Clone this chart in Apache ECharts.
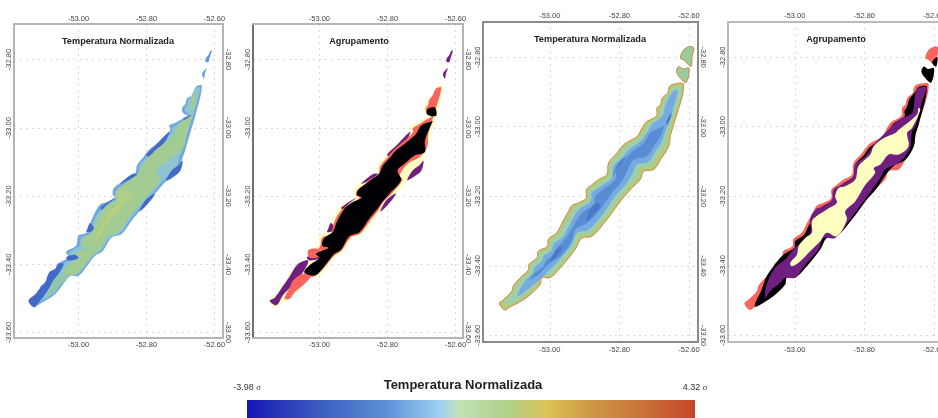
<!DOCTYPE html>
<html>
<head>
<meta charset="utf-8">
<style>html,body{margin:0;padding:0;background:#fff;overflow:hidden}#main{width:938px;height:418px}</style>
<script src="https://cdn.jsdelivr.net/npm/echarts@6/dist/echarts.min.js"></script>
</head>
<body>
<div id="main"></div>
<script>
// tick labels
var lonTicks = [-53.0, -52.8, -52.6];
var latTicks = [-33.6, -33.4, -33.2, -33.0, -32.8];

// temperature scale (sigma) and colours
var scaleMin = -3.98;
var scaleMax = 4.32;
var scaleValues = [-3.98, -2.65, -1.41, -0.41, -0.04, 0.83, 1.58, 2.33, 3.57, 4.32];
var scaleColors = ['#1716b5', '#3a5cc0', '#5a90d5', '#9fd0f5', '#c0e3b5', '#aed18a', '#dcc355', '#d09a45', '#c76a35', '#c8452a'];

// cluster colours
var black = '#000004', purple = '#6f1f80', salmon = '#f8655f', cream = '#fcfdbf';

// --- left pair, outlines as [lon, lat] ---
var outlineA = [[-52.637,-32.877],[-52.652,-32.878],[-52.662,-32.895],[-52.665,-32.905],[-52.681,-32.914],[-52.685,-32.929],[-52.696,-32.944],[-52.691,-32.958],[-52.677,-32.966],[-52.693,-32.973],[-52.716,-32.986],[-52.733,-32.993],[-52.730,-33.007],[-52.750,-33.027],[-52.770,-33.046],[-52.794,-33.066],[-52.809,-33.086],[-52.828,-33.110],[-52.833,-33.134],[-52.853,-33.144],[-52.873,-33.159],[-52.897,-33.178],[-52.899,-33.198],[-52.892,-33.203],[-52.917,-33.218],[-52.936,-33.224],[-52.951,-33.247],[-52.966,-33.281],[-52.974,-33.306],[-53.000,-33.316],[-53.007,-33.345],[-53.037,-33.364],[-53.029,-33.379],[-53.062,-33.399],[-53.069,-33.414],[-53.086,-33.424],[-53.098,-33.454],[-53.111,-33.463],[-53.115,-33.478],[-53.127,-33.488],[-53.147,-33.507],[-53.132,-33.527],[-53.123,-33.522],[-53.098,-33.507],[-53.069,-33.488],[-53.049,-33.463],[-53.025,-33.434],[-53.000,-33.434],[-52.971,-33.399],[-52.951,-33.374],[-52.931,-33.364],[-52.902,-33.321],[-52.873,-33.311],[-52.843,-33.271],[-52.819,-33.242],[-52.799,-33.208],[-52.780,-33.198],[-52.745,-33.159],[-52.735,-33.154],[-52.726,-33.149],[-52.701,-33.125],[-52.696,-33.095],[-52.686,-33.066],[-52.672,-33.017],[-52.652,-32.949]];
var islandA1 = [[-52.611,-32.773],[-52.608,-32.775],[-52.615,-32.797],[-52.618,-32.807],[-52.626,-32.807],[-52.626,-32.797],[-52.618,-32.787]];
var islandA2 = [[-52.623,-32.825],[-52.628,-32.841],[-52.631,-32.856],[-52.637,-32.843],[-52.631,-32.833]];
var bandA = [[-52.642,-32.882],[-52.657,-32.885],[-52.667,-32.905],[-52.677,-32.919],[-52.681,-32.934],[-52.688,-32.944],[-52.683,-32.956],[-52.670,-32.966],[-52.689,-32.978],[-52.711,-32.993],[-52.726,-33.002],[-52.724,-33.012],[-52.740,-33.029],[-52.762,-33.048],[-52.784,-33.068],[-52.801,-33.088],[-52.821,-33.112],[-52.827,-33.139],[-52.848,-33.149],[-52.868,-33.166],[-52.889,-33.183],[-52.892,-33.198],[-52.882,-33.205],[-52.912,-33.224],[-52.931,-33.237],[-52.944,-33.252],[-52.958,-33.281],[-52.966,-33.311],[-52.992,-33.322],[-52.997,-33.345],[-53.029,-33.367],[-53.017,-33.381],[-53.049,-33.403],[-53.059,-33.428],[-53.074,-33.447],[-53.088,-33.472],[-53.103,-33.496],[-53.115,-33.511],[-53.098,-33.501],[-53.069,-33.482],[-53.054,-33.457],[-53.029,-33.430],[-53.003,-33.428],[-52.977,-33.399],[-52.956,-33.374],[-52.936,-33.361],[-52.909,-33.322],[-52.879,-33.309],[-52.850,-33.271],[-52.827,-33.242],[-52.807,-33.218],[-52.784,-33.193],[-52.755,-33.159],[-52.745,-33.149],[-52.730,-33.134],[-52.711,-33.113],[-52.703,-33.086],[-52.693,-33.061],[-52.680,-33.017],[-52.659,-32.949]];
var coreA = [[-52.652,-32.890],[-52.664,-32.914],[-52.672,-32.939],[-52.664,-32.958],[-52.681,-32.973],[-52.706,-32.990],[-52.716,-33.012],[-52.735,-33.035],[-52.755,-33.051],[-52.775,-33.066],[-52.791,-33.086],[-52.814,-33.112],[-52.824,-33.134],[-52.843,-33.149],[-52.863,-33.164],[-52.887,-33.183],[-52.889,-33.198],[-52.876,-33.205],[-52.902,-33.218],[-52.922,-33.232],[-52.936,-33.252],[-52.951,-33.281],[-52.961,-33.306],[-52.985,-33.322],[-52.992,-33.345],[-52.974,-33.352],[-53.010,-33.369],[-53.000,-33.381],[-53.029,-33.403],[-53.044,-33.423],[-53.020,-33.433],[-53.003,-33.426],[-52.980,-33.399],[-52.958,-33.371],[-52.936,-33.357],[-52.912,-33.318],[-52.882,-33.306],[-52.853,-33.266],[-52.833,-33.242],[-52.814,-33.216],[-52.794,-33.193],[-52.760,-33.154],[-52.770,-33.125],[-52.750,-33.105],[-52.721,-33.084],[-52.693,-33.061],[-52.681,-33.017],[-52.662,-32.954]];
var coreSouthA = [[-53.054,-33.428],[-53.029,-33.433],[-53.059,-33.467],[-53.083,-33.491],[-53.095,-33.501],[-53.083,-33.472],[-53.069,-33.447]];
var centreA1 = [[-52.873,-33.220],[-52.907,-33.244],[-52.931,-33.284],[-52.951,-33.318],[-52.961,-33.338],[-52.936,-33.314],[-52.907,-33.269],[-52.873,-33.234]];
var centreA2 = [[-52.873,-33.183],[-52.843,-33.188],[-52.853,-33.218],[-52.878,-33.222],[-52.892,-33.198]];
var deepSouth = [[-53.147,-33.507],[-53.127,-33.488],[-53.113,-33.469],[-53.098,-33.452],[-53.086,-33.423],[-53.069,-33.414],[-53.059,-33.399],[-53.044,-33.399],[-53.056,-33.423],[-53.074,-33.447],[-53.088,-33.472],[-53.103,-33.494],[-53.121,-33.516],[-53.132,-33.525]];
var fringe1 = [[-53.036,-33.379],[-52.997,-33.371],[-52.995,-33.381],[-53.029,-33.389]];
var fringe2 = [[-52.977,-33.306],[-52.954,-33.299],[-52.966,-33.279],[-52.974,-33.296]];
var fringe3 = [[-52.936,-33.234],[-52.892,-33.205],[-52.915,-33.224],[-52.931,-33.240]];
var fringe4 = [[-52.843,-33.136],[-52.828,-33.136],[-52.853,-33.154],[-52.877,-33.164]];
var fringe5 = [[-52.801,-33.078],[-52.770,-33.048],[-52.750,-33.027],[-52.733,-33.012],[-52.743,-33.037],[-52.768,-33.064],[-52.794,-33.084]];
var fringe6 = [[-52.694,-33.097],[-52.701,-33.127],[-52.726,-33.146],[-52.742,-33.154],[-52.726,-33.125],[-52.706,-33.110]];
var fringe7 = [[-52.799,-33.208],[-52.775,-33.193],[-52.795,-33.221],[-52.820,-33.245],[-52.812,-33.225]];
var fringe8 = [[-52.693,-32.973],[-52.667,-32.963],[-52.681,-32.978]];

var purpleSouth = [[-53.146,-33.507],[-53.131,-33.498],[-53.107,-33.464],[-53.087,-33.435],[-53.063,-33.399],[-53.033,-33.389],[-53.048,-33.423],[-53.073,-33.447],[-53.087,-33.469],[-53.107,-33.491],[-53.126,-33.520]];
var salmonMain = [[-52.642,-32.882],[-52.657,-32.885],[-52.667,-32.905],[-52.677,-32.919],[-52.681,-32.934],[-52.688,-32.944],[-52.683,-32.956],[-52.670,-32.966],[-52.689,-32.978],[-52.711,-32.993],[-52.726,-33.002],[-52.724,-33.012],[-52.740,-33.029],[-52.762,-33.048],[-52.784,-33.068],[-52.801,-33.088],[-52.821,-33.112],[-52.827,-33.139],[-52.848,-33.149],[-52.868,-33.166],[-52.889,-33.183],[-52.892,-33.198],[-52.882,-33.205],[-52.912,-33.224],[-52.931,-33.237],[-52.944,-33.252],[-52.958,-33.281],[-52.966,-33.311],[-52.992,-33.322],[-52.997,-33.345],[-53.003,-33.360],[-52.990,-33.380],[-53.020,-33.400],[-53.044,-33.425],[-53.020,-33.437],[-53.003,-33.428],[-52.977,-33.399],[-52.956,-33.374],[-52.936,-33.361],[-52.909,-33.322],[-52.879,-33.309],[-52.850,-33.271],[-52.827,-33.242],[-52.813,-33.218],[-52.788,-33.193],[-52.756,-33.152],[-52.764,-33.139],[-52.739,-33.105],[-52.705,-33.086],[-52.683,-33.056],[-52.680,-33.017],[-52.659,-32.949]];
var salmonSouth = [[-53.077,-33.447],[-53.048,-33.428],[-53.024,-33.433],[-53.043,-33.457],[-53.073,-33.482],[-53.087,-33.501],[-53.102,-33.501],[-53.097,-33.486],[-53.087,-33.469]];
var salmonFold = [[-53.033,-33.359],[-53.004,-33.355],[-52.994,-33.374],[-53.028,-33.381]];
var blackTop = [[-52.681,-32.944],[-52.661,-32.941],[-52.656,-32.963],[-52.671,-32.966],[-52.685,-32.958]];
var blackMain = [[-52.666,-32.980],[-52.700,-32.993],[-52.715,-33.017],[-52.735,-33.035],[-52.755,-33.051],[-52.775,-33.066],[-52.791,-33.086],[-52.814,-33.112],[-52.824,-33.134],[-52.843,-33.149],[-52.863,-33.164],[-52.887,-33.183],[-52.889,-33.198],[-52.876,-33.205],[-52.902,-33.218],[-52.922,-33.232],[-52.936,-33.252],[-52.951,-33.281],[-52.961,-33.306],[-52.985,-33.322],[-52.992,-33.345],[-52.974,-33.352],[-53.010,-33.369],[-53.000,-33.381],[-53.029,-33.403],[-53.044,-33.423],[-53.020,-33.433],[-53.003,-33.426],[-52.980,-33.399],[-52.958,-33.371],[-52.936,-33.357],[-52.912,-33.318],[-52.882,-33.306],[-52.853,-33.266],[-52.833,-33.242],[-52.814,-33.216],[-52.794,-33.193],[-52.760,-33.154],[-52.770,-33.125],[-52.749,-33.105],[-52.720,-33.081],[-52.690,-33.071],[-52.690,-33.037],[-52.668,-32.983]];

// --- right pair ---
var outlineB = [[-52.615,-32.879],[-52.649,-32.879],[-52.658,-32.889],[-52.661,-32.903],[-52.677,-32.918],[-52.682,-32.937],[-52.692,-32.946],[-52.692,-32.966],[-52.701,-32.975],[-52.721,-32.985],[-52.732,-32.999],[-52.749,-33.028],[-52.773,-33.042],[-52.788,-33.052],[-52.807,-33.076],[-52.831,-33.104],[-52.836,-33.138],[-52.860,-33.152],[-52.879,-33.167],[-52.895,-33.181],[-52.895,-33.205],[-52.917,-33.219],[-52.937,-33.227],[-52.946,-33.243],[-52.965,-33.277],[-52.980,-33.305],[-53.004,-33.323],[-53.007,-33.344],[-53.033,-33.358],[-53.037,-33.377],[-53.060,-33.396],[-53.061,-33.411],[-53.085,-33.434],[-53.105,-33.458],[-53.109,-33.473],[-53.133,-33.497],[-53.145,-33.508],[-53.129,-33.527],[-53.114,-33.518],[-53.090,-33.506],[-53.061,-33.487],[-53.028,-33.454],[-53.023,-33.434],[-52.999,-33.434],[-52.970,-33.406],[-52.927,-33.353],[-52.908,-33.320],[-52.879,-33.315],[-52.836,-33.267],[-52.797,-33.214],[-52.764,-33.176],[-52.740,-33.152],[-52.730,-33.128],[-52.701,-33.123],[-52.682,-33.095],[-52.658,-33.056],[-52.653,-33.023],[-52.644,-32.994]];
var islandB1 = [[-52.596,-32.769],[-52.586,-32.774],[-52.591,-32.798],[-52.594,-32.827],[-52.615,-32.808],[-52.625,-32.803],[-52.615,-32.779]];
var islandB2 = [[-52.600,-32.832],[-52.608,-32.873],[-52.625,-32.860],[-52.636,-32.841],[-52.629,-32.827],[-52.617,-32.834]];
var greenB = [[-52.620,-32.886],[-52.644,-32.886],[-52.653,-32.899],[-52.671,-32.922],[-52.677,-32.942],[-52.685,-32.956],[-52.684,-32.970],[-52.716,-32.991],[-52.728,-33.009],[-52.745,-33.035],[-52.783,-33.058],[-52.802,-33.083],[-52.826,-33.109],[-52.831,-33.143],[-52.855,-33.160],[-52.889,-33.186],[-52.891,-33.210],[-52.927,-33.234],[-52.941,-33.253],[-52.961,-33.286],[-52.975,-33.313],[-52.999,-33.329],[-53.001,-33.348],[-53.028,-33.365],[-53.033,-33.382],[-53.055,-33.401],[-53.057,-33.415],[-53.081,-33.439],[-53.100,-33.463],[-53.105,-33.478],[-53.129,-33.501],[-53.124,-33.514],[-53.090,-33.497],[-53.066,-33.478],[-53.036,-33.449],[-53.028,-33.428],[-53.001,-33.428],[-52.975,-33.401],[-52.932,-33.348],[-52.913,-33.313],[-52.884,-33.307],[-52.841,-33.259],[-52.807,-33.214],[-52.773,-33.171],[-52.749,-33.143],[-52.740,-33.119],[-52.711,-33.114],[-52.692,-33.085],[-52.668,-33.052],[-52.661,-33.018],[-52.652,-32.991]];
var paleBlueB = [[-52.634,-32.894],[-52.649,-32.903],[-52.663,-32.927],[-52.671,-32.951],[-52.677,-32.970],[-52.706,-32.994],[-52.721,-33.018],[-52.740,-33.042],[-52.773,-33.066],[-52.793,-33.090],[-52.817,-33.114],[-52.821,-33.147],[-52.850,-33.169],[-52.879,-33.190],[-52.882,-33.214],[-52.917,-33.238],[-52.932,-33.262],[-52.951,-33.296],[-52.965,-33.320],[-52.989,-33.336],[-52.994,-33.355],[-53.018,-33.372],[-53.023,-33.387],[-53.045,-33.406],[-53.049,-33.420],[-53.071,-33.444],[-53.085,-33.466],[-53.093,-33.487],[-53.076,-33.478],[-53.052,-33.458],[-53.028,-33.439],[-53.004,-33.415],[-52.980,-33.391],[-52.937,-33.339],[-52.922,-33.305],[-52.889,-33.296],[-52.845,-33.248],[-52.812,-33.200],[-52.783,-33.167],[-52.764,-33.138],[-52.749,-33.109],[-52.716,-33.100],[-52.697,-33.071],[-52.677,-33.042],[-52.668,-33.013],[-52.655,-32.980],[-52.644,-32.942],[-52.634,-32.908]];
var midBlueB = [[-52.653,-32.951],[-52.668,-32.994],[-52.711,-33.018],[-52.730,-33.047],[-52.769,-33.076],[-52.783,-33.095],[-52.807,-33.119],[-52.812,-33.152],[-52.841,-33.176],[-52.869,-33.200],[-52.874,-33.224],[-52.908,-33.248],[-52.922,-33.267],[-52.941,-33.301],[-52.961,-33.329],[-52.980,-33.348],[-52.989,-33.367],[-53.011,-33.387],[-53.018,-33.401],[-53.042,-33.420],[-53.057,-33.439],[-53.033,-33.425],[-52.999,-33.391],[-52.970,-33.372],[-52.937,-33.329],[-52.927,-33.296],[-52.893,-33.277],[-52.855,-33.238],[-52.821,-33.190],[-52.793,-33.157],[-52.778,-33.128],[-52.759,-33.095],[-52.721,-33.085],[-52.701,-33.056],[-52.682,-33.028],[-52.673,-33.004],[-52.658,-32.970]];
var streakB1 = [[-52.855,-33.229],[-52.879,-33.257],[-52.893,-33.272],[-52.889,-33.248],[-52.865,-33.219]];
var streakB2 = [[-52.961,-33.344],[-52.985,-33.377],[-52.999,-33.391],[-52.985,-33.358]];
var streakB3 = [[-52.778,-33.085],[-52.807,-33.123],[-52.821,-33.147],[-52.802,-33.104]];
var streakB4 = [[-52.649,-32.961],[-52.661,-32.994],[-52.665,-32.991],[-52.655,-32.966]];

var blackB = [[-52.620,-32.886],[-52.644,-32.886],[-52.653,-32.899],[-52.671,-32.922],[-52.677,-32.942],[-52.685,-32.956],[-52.684,-32.970],[-52.716,-32.991],[-52.728,-33.009],[-52.745,-33.035],[-52.783,-33.058],[-52.802,-33.083],[-52.826,-33.109],[-52.831,-33.143],[-52.855,-33.160],[-52.889,-33.186],[-52.891,-33.210],[-52.927,-33.234],[-52.941,-33.253],[-52.961,-33.286],[-52.975,-33.313],[-52.999,-33.329],[-53.001,-33.348],[-53.033,-33.368],[-53.057,-33.396],[-53.081,-33.430],[-53.095,-33.468],[-53.114,-33.508],[-53.114,-33.518],[-53.090,-33.506],[-53.061,-33.487],[-53.028,-33.454],[-53.023,-33.434],[-52.999,-33.434],[-52.970,-33.406],[-52.927,-33.353],[-52.908,-33.320],[-52.879,-33.315],[-52.836,-33.267],[-52.797,-33.214],[-52.764,-33.176],[-52.740,-33.140],[-52.715,-33.112],[-52.682,-33.095],[-52.658,-33.056],[-52.653,-33.023],[-52.644,-32.994]];
var purpleB = [[-52.625,-32.886],[-52.644,-32.889],[-52.653,-32.903],[-52.658,-32.942],[-52.663,-32.961],[-52.692,-32.975],[-52.711,-32.989],[-52.740,-33.018],[-52.769,-33.047],[-52.797,-33.085],[-52.826,-33.109],[-52.831,-33.143],[-52.865,-33.167],[-52.889,-33.181],[-52.893,-33.210],[-52.917,-33.229],[-52.941,-33.238],[-52.956,-33.267],[-52.956,-33.305],[-53.004,-33.353],[-53.028,-33.382],[-53.057,-33.406],[-53.081,-33.454],[-53.085,-33.492],[-53.071,-33.473],[-53.042,-33.449],[-53.028,-33.434],[-52.999,-33.434],[-52.970,-33.396],[-52.932,-33.353],[-52.917,-33.320],[-52.884,-33.320],[-52.845,-33.272],[-52.817,-33.234],[-52.778,-33.181],[-52.754,-33.147],[-52.740,-33.123],[-52.701,-33.104],[-52.677,-33.076],[-52.668,-33.061],[-52.663,-33.013],[-52.653,-32.999],[-52.634,-32.927],[-52.620,-32.889]];
var creamB = [[-52.644,-32.946],[-52.649,-32.966],[-52.701,-33.009],[-52.711,-33.018],[-52.745,-33.033],[-52.773,-33.056],[-52.783,-33.080],[-52.817,-33.114],[-52.826,-33.152],[-52.855,-33.171],[-52.874,-33.176],[-52.884,-33.200],[-52.879,-33.219],[-52.908,-33.238],[-52.937,-33.257],[-52.951,-33.272],[-52.951,-33.305],[-52.970,-33.320],[-52.989,-33.344],[-52.994,-33.368],[-53.013,-33.391],[-53.009,-33.401],[-52.989,-33.391],[-52.956,-33.358],[-52.927,-33.329],[-52.908,-33.305],[-52.879,-33.315],[-52.850,-33.267],[-52.855,-33.243],[-52.826,-33.214],[-52.797,-33.167],[-52.769,-33.133],[-52.773,-33.119],[-52.754,-33.109],[-52.730,-33.080],[-52.701,-33.080],[-52.673,-33.056],[-52.677,-33.018],[-52.663,-33.004],[-52.639,-32.951]];
var blackIslandB = [[-52.590,-32.800],[-52.594,-32.827],[-52.605,-32.815]];

function scaleColor(v) {
    for (var i = 1; i < scaleValues.length; i++) {
        if (v <= scaleValues[i]) {
            var t = (v - scaleValues[i - 1]) / (scaleValues[i] - scaleValues[i - 1]);
            return echarts.color.lerp(t, [scaleColors[i - 1], scaleColors[i]]);
        }
    }
    return scaleColors[scaleColors.length - 1];
}

var deep = scaleColor(-2.3);
var panels = [
    {
        title: 'Temperatura Normalizada', left: 14, top: 24, width: 209, height: 314,
        lon: [-53.19, -52.575], lat: [-33.616, -32.696], titleX: 118, titleY: 37, topGap: 1, bottomGap: 3,
        line: ['#b4b4b4', '#b4b4b4'],
        layers: [
            [outlineA, scaleColor(-1.05)], [islandA1, scaleColor(-1.3)], [islandA2, scaleColor(-1.1)],
            [bandA, '#8cc4d0'],
            [deepSouth, deep], [fringe1, deep], [fringe2, deep], [fringe3, deep], [fringe4, deep],
            [fringe5, deep], [fringe6, deep], [fringe7, deep], [fringe8, scaleColor(-1.9)],
            [coreA, '#a3cc92'], [coreSouthA, '#93c6a8'],
            [centreA1, '#b6cf80'], [centreA2, '#b0cf86']
        ]
    },
    {
        title: 'Agrupamento', left: 253, top: 24, width: 210, height: 314,
        lon: [-53.195, -52.578], lat: [-33.616, -32.696], titleX: 359, titleY: 37, topGap: 1, bottomGap: 3,
        line: ['#b4b4b4', '#707070'],
        layers: [
            [outlineA, cream], [islandA1, purple], [islandA2, purple],
            [purpleSouth, purple], [fringe1, purple], [fringe2, purple], [fringe3, purple], [fringe4, purple],
            [fringe5, purple], [fringe6, purple], [fringe7, purple],
            [salmonMain, salmon], [salmonSouth, salmon], [salmonFold, salmon],
            [blackMain, black], [blackTop, black]
        ]
    },
    {
        title: 'Temperatura Normalizada', left: 483, top: 22, width: 215, height: 320,
        lon: [-53.192, -52.574], lat: [-33.619, -32.699], titleX: 590, titleY: 35, topGap: 2, bottomGap: 4,
        line: ['#8a8a8a', '#8a8a8a'],
        layers: [
            [outlineB, '#b9c878', '#c98a45'], [islandB1, '#9ccb9a', '#c98a45'], [islandB2, '#9ccb9a', '#c98a45'],
            [greenB, '#9ccfae'], [paleBlueB, scaleColor(-1.0)], [midBlueB, scaleColor(-1.5)],
            [streakB1, scaleColor(-2.0)], [streakB2, scaleColor(-2.0)], [streakB3, scaleColor(-1.8)], [streakB4, scaleColor(-2.0)]
        ]
    },
    {
        title: 'Agrupamento', left: 728, top: 22, width: 215, height: 320,
        lon: [-53.192, -52.574], lat: [-33.619, -32.699], titleX: 836, titleY: 35, topGap: 2, bottomGap: 4,
        line: ['#bbbbbb', '#bbbbbb'],
        layers: [
            [outlineB, salmon], [islandB1, salmon], [islandB2, black], [blackIslandB, black],
            [blackB, black], [purpleB, purple], [creamB, cream]
        ]
    }
];

var grid = [], xAxis = [], yAxis = [], series = [], title = [];
var labelColor = '#444';
var gridDots = { type: [2, 4], color: '#d8d8d8' };

panels.forEach(function (p, i) {
    grid.push({ left: p.left, top: p.top, width: p.width, height: p.height, outerBoundsMode: 'none' });
    title.push({
        text: p.title, left: p.titleX, top: p.titleY, textAlign: 'center', padding: 0,
        textStyle: { fontFamily: 'Liberation Sans', fontSize: 9.2, fontWeight: 'bold', color: '#222' }
    });
    ['bottom', 'top'].forEach(function (pos, k) {
        xAxis.push({
            gridIndex: i, type: 'value', position: pos, min: p.lon[0], max: p.lon[1],
            axisLine: { onZero: false, lineStyle: { color: p.line[0], width: 2 } },
            axisTick: { show: false, customValues: lonTicks },
            axisLabel: {
                customValues: lonTicks, margin: k === 0 ? p.bottomGap : p.topGap, fontSize: 7.5, color: labelColor, fontFamily: 'Liberation Sans',
                formatter: function (v) { return v.toFixed(2); }
            },
            splitLine: { show: k === 0, lineStyle: gridDots }
        });
    });
    ['left', 'right'].forEach(function (pos, k) {
        yAxis.push({
            gridIndex: i, type: 'value', position: pos, min: p.lat[0], max: p.lat[1],
            axisLine: { onZero: false, lineStyle: { color: k === 0 ? p.line[1] : p.line[0], width: 2 } },
            axisTick: { show: false, customValues: latTicks },
            axisLabel: {
                customValues: latTicks, rotate: k === 0 ? 90 : -90, margin: 1, fontSize: 7.5, color: labelColor, fontFamily: 'Liberation Sans',
                formatter: function (v) { return v.toFixed(2); }
            },
            splitLine: { show: k === 0, lineStyle: gridDots }
        });
    });
    series.push({
        type: 'custom', coordinateSystem: 'cartesian2d', xAxisIndex: i * 2, yAxisIndex: i * 2, silent: true, clip: true,
        data: p.layers.map(function (l) { return l[0][0]; }),
        renderItem: function (params, api) {
            var layer = p.layers[params.dataIndex];
            return {
                type: 'polygon',
                shape: { points: layer[0].map(function (c) { return api.coord(c); }), smooth: 0.35 },
                style: { fill: layer[1], stroke: layer[2] || null, lineWidth: layer[2] ? 1 : 0 }
            };
        }
    });
});

// colour bar
var barGrid = panels.length;
grid.push({ left: 247, top: 400, width: 448, height: 40, outerBoundsMode: 'none' });
xAxis.push({
    gridIndex: barGrid, type: 'value', position: 'top', min: scaleMin, max: scaleMax,
    axisLine: { show: false }, splitLine: { show: false },
    axisTick: { customValues: [scaleMin, scaleMax], length: 4, lineStyle: { color: '#bbb' } },
    axisLabel: {
        customValues: [scaleMin, scaleMax], margin: 8, color: '#333', fontSize: 9, fontFamily: 'Liberation Sans',
        formatter: function (v) { return v.toFixed(2) + ' {s|σ}'; },
        rich: { s: { fontStyle: 'italic', fontSize: 9, color: '#333', fontFamily: 'Liberation Serif' } }
    }
});
yAxis.push({ gridIndex: barGrid, type: 'value', min: 0, max: 1, show: false });
title.push({
    text: 'Temperatura Normalizada', left: 463, top: 379, textAlign: 'center', padding: 0,
    textStyle: { fontFamily: 'Liberation Sans', fontSize: 13, fontWeight: 'bold', color: '#222' }
});
series.push({
    type: 'custom', coordinateSystem: 'cartesian2d', xAxisIndex: panels.length * 2, yAxisIndex: panels.length * 2, silent: true,
    data: [[scaleMin, 1]],
    renderItem: function (params, api) {
        var a = api.coord([scaleMin, 1]), b = api.coord([scaleMax, 0]);
        var stops = scaleValues.map(function (v, i) {
            return { offset: (v - scaleMin) / (scaleMax - scaleMin), color: scaleColors[i] };
        });
        return {
            type: 'rect',
            shape: { x: a[0], y: a[1], width: b[0] - a[0], height: b[1] - a[1] },
            style: { fill: new echarts.graphic.LinearGradient(0, 0, 1, 0, stops) }
        };
    }
});

var myChart = echarts.init(document.getElementById('main'), null, { renderer: 'canvas' });
myChart.setOption({
    animation: false,
    backgroundColor: '#fff',
    title: title,
    grid: grid,
    xAxis: xAxis,
    yAxis: yAxis,
    series: series
});
</script>
</body>
</html>
